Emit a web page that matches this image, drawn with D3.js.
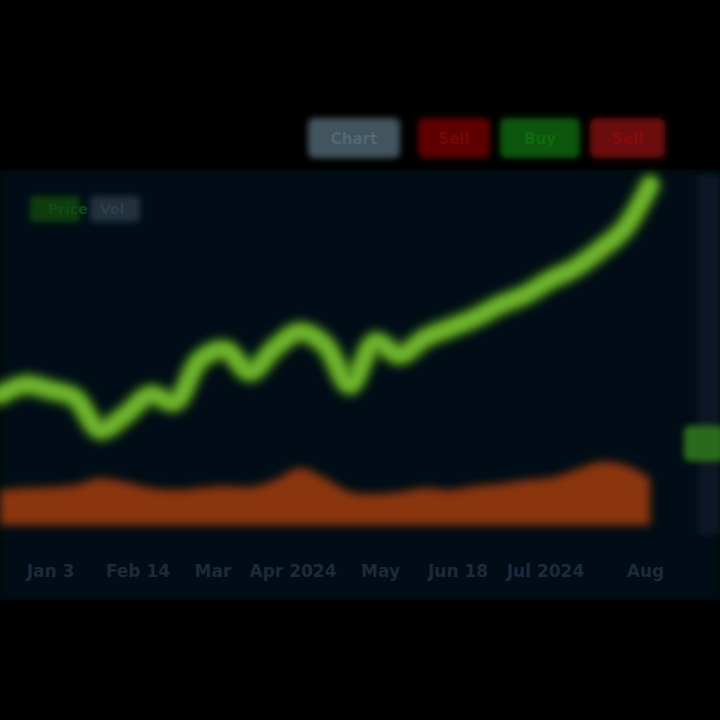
<!DOCTYPE html>
<html><head><meta charset="utf-8">
<script src="https://cdn.jsdelivr.net/npm/d3@7"></script>
<style>html,body{margin:0;padding:0;background:#000;}svg{display:block;}</style>
</head><body>
<svg id="c" width="720" height="720"></svg>
<script>
const dates = ["D1","D2","D3","D4","D5","D6","D7","D8","D9","D10","D11","D12","D13","D14","D15","D16","D17","D18","D19","D20","D21","D22","D23","D24","D25","D26","D27"];
const price = [37.5,40.3,38.9,36.7,27.8,31.9,37.5,35.6,47.2,50,43.9,50.6,55,51.4,40.3,52.2,48.6,53.3,56.1,58.9,62.5,65.3,69.4,72.8,77.8,83.9,95.8];
const volume = [17.5,18.5,19,20,23.5,21.5,18.5,17.5,18.5,19.5,19,22.5,28.5,23.5,16.5,15.5,16.5,18.5,17.5,19.5,20.5,22.5,23.5,27.5,31.5,30,23.5];
const tickLabels = ["Jan 3","Feb 14","Mar","Apr 2024","May","Jun 18","Jul 2024","Aug"];
const tickPos = [2,5.5,8.5,11.7,15.2,18.3,21.8,25.8];
const buttons = ["Chart","Sell","Buy","Sell"];
const buttonColors = ["#42545e","#5e0606","#0b560b","#6c0808"];
const legendLabels = ["Price","Vol"];
const lastPrice = [24];
const refLevel = [38.9];

const svg = d3.select("#c");
const defs = svg.append("defs");
const f = defs.append("filter").attr("id","blur").attr("x","-20%").attr("y","-20%").attr("width","140%").attr("height","140%");
f.append("feGaussianBlur").attr("stdDeviation",5);
const f2 = defs.append("filter").attr("id","soft").attr("x","-20%").attr("y","-50%").attr("width","140%").attr("height","200%");
f2.append("feGaussianBlur").attr("stdDeviation",3);

svg.append("rect").attr("width",720).attr("height",720).attr("fill","#000");
// panel
svg.append("rect").attr("x",0).attr("y",170).attr("width",720).attr("height",430).attr("fill","#030a14").attr("filter","url(#blur)");
svg.append("rect").attr("x",698).attr("y",175).attr("width",22).attr("height",360).attr("fill","#0c1828").attr("filter","url(#blur)");

const x = d3.scalePoint().domain(dates).range([0,650]);
const xl = d3.scaleLinear().domain([0,dates.length-1]).range([0,650]);
const y = d3.scaleLinear().domain([0,100]).range([530,170]);
const yv = d3.scaleLinear().domain([0,40]).range([525,445]);

// gridline
svg.append("line").attr("x1",325).attr("x2",325).attr("y1",175).attr("y2",540).attr("stroke","#0c1626").attr("stroke-width",4).attr("filter","url(#soft)");
// ref level
svg.append("line").attr("x1",370).attr("x2",695).attr("y1",y(refLevel[0])).attr("y2",y(refLevel[0])).attr("stroke","#2a0b10").attr("stroke-width",5).attr("filter","url(#soft)");

// volume area
const area = d3.area().x(d=>x(d.d)).y0(yv(0)).y1(d=>yv(d.v)).curve(d3.curveCatmullRom);
const vd = dates.map((d,i)=>({d,v:volume[i]}));
svg.append("path").datum(vd).attr("d",area).attr("fill","#8a3610").attr("filter","url(#blur)");

// price line
const line = d3.line().x(d=>x(d.d)).y(d=>y(d.v)).curve(d3.curveCatmullRom);
const pd = dates.map((d,i)=>({d,v:price[i]}));
svg.append("path").datum(pd).attr("d",line).attr("fill","none").attr("stroke","#4f8f1f").attr("stroke-width",22).attr("stroke-linejoin","round").attr("stroke-linecap","round").attr("filter","url(#blur)");
svg.append("path").datum(pd).attr("d",line).attr("fill","none").attr("stroke","#6fb22e").attr("stroke-width",10).attr("stroke-linejoin","round").attr("stroke-linecap","round").attr("filter","url(#soft)");

// last price tag
svg.append("rect").attr("x",684).attr("y",y(lastPrice[0])-18).attr("width",40).attr("height",36).attr("rx",6).attr("fill","#2c6a1e").attr("filter","url(#soft)");

// x-axis
const axis = d3.axisBottom(xl).tickValues(tickPos).tickFormat((d,i)=>tickLabels[i]).tickSize(0).tickPadding(0);
const ag = svg.append("g").attr("transform","translate(0,565)").call(axis);
ag.select(".domain").remove();
ag.selectAll("text").attr("fill","#1c2a38").attr("font-family","DejaVu Sans").attr("font-weight","bold").attr("font-size",17);

// buttons
const bx = [308,418,500,590], bw=[92,72,80,75];
const bg = svg.append("g");
buttons.forEach((b,i)=>{
  bg.append("rect").attr("x",bx[i]).attr("y",118).attr("width",bw[i]).attr("height",40).attr("rx",6).attr("fill",buttonColors[i]).attr("filter","url(#soft)");
  bg.append("text").attr("x",bx[i]+bw[i]/2).attr("y",144).attr("text-anchor","middle").attr("font-family","DejaVu Sans").attr("font-weight","bold").attr("font-size",15).attr("fill",d3.color(buttonColors[i]).brighter(0.6)).text(b);
});
// legend
svg.append("rect").attr("x",30).attr("y",196).attr("width",50).attr("height",26).attr("rx",4).attr("fill","#0b3d0f").attr("filter","url(#soft)");
svg.append("text").attr("x",48).attr("y",214).attr("font-family","DejaVu Sans").attr("font-weight","bold").attr("font-size",14).attr("fill","#0f4a14").text(legendLabels[0]);
svg.append("rect").attr("x",90).attr("y",196).attr("width",50).attr("height",26).attr("rx",4).attr("fill","#22323e").attr("filter","url(#soft)");
svg.append("text").attr("x",100).attr("y",214).attr("font-family","DejaVu Sans").attr("font-weight","bold").attr("font-size",14).attr("fill","#2d3f4d").text(legendLabels[1]);
</script>
</body></html>
